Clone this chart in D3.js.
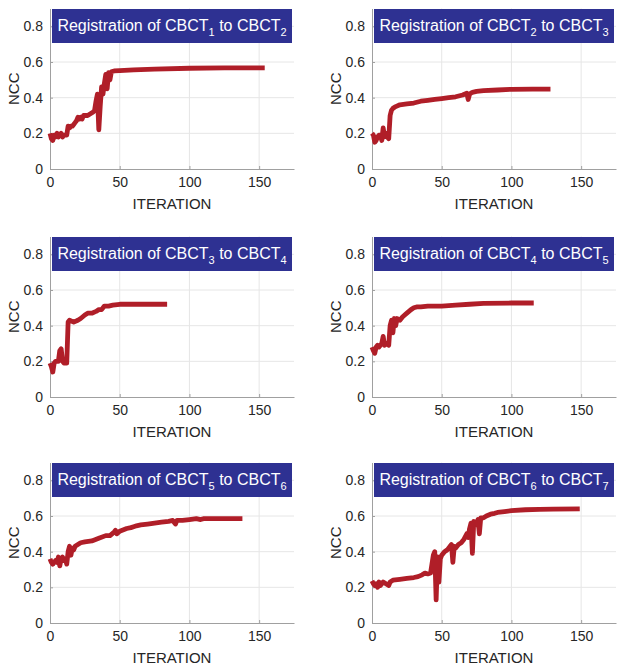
<!DOCTYPE html>
<html><head><meta charset="utf-8">
<script src="https://cdn.jsdelivr.net/npm/d3@7"></script>
<style>
html,body{margin:0;padding:0;background:#fff;}
svg{display:block;font-family:"Liberation Sans",Arial,sans-serif;}
</style></head><body>
<svg id="c" width="624" height="671"></svg>
<script>
// ---- data: [iteration, NCC] ----
const reg1 = [[0,0.20],[1,0.17],[2,0.16],[3,0.19],[4,0.18],[5,0.20],[6,0.18],[7,0.19],[8,0.20],[9,0.18],[10,0.19],[11,0.19],[12,0.19],[13,0.24],[14,0.23],[15,0.24],[16,0.24],[17,0.25],[18,0.26],[19,0.27],[20,0.29],[21,0.28],[22,0.29],[23,0.28],[24,0.30],[25,0.30],[27,0.30],[29,0.31],[31,0.32],[32,0.33],[33,0.38],[34,0.42],[35,0.22],[36,0.35],[37,0.46],[38,0.42],[39,0.48],[40,0.53],[41,0.45],[42,0.54],[43,0.50],[44,0.545],[46,0.55],[50,0.552],[60,0.556],[75,0.56],[100,0.565],[125,0.567],[154,0.567]];
const reg2 = [[0,0.20],[1,0.19],[2,0.15],[3,0.16],[4,0.18],[5,0.19],[6,0.19],[7,0.16],[8,0.23],[9,0.18],[10,0.20],[11,0.18],[12,0.17],[13,0.30],[14,0.33],[15,0.34],[17,0.35],[20,0.36],[25,0.365],[30,0.37],[35,0.38],[40,0.385],[45,0.39],[50,0.395],[55,0.40],[60,0.405],[65,0.415],[68,0.425],[69,0.39],[70,0.42],[72,0.43],[75,0.435],[80,0.44],[90,0.443],[100,0.447],[115,0.448],[128,0.448]];
const reg3 = [[0,0.19],[1,0.17],[2,0.14],[3,0.19],[4,0.20],[6,0.20],[7,0.26],[8,0.27],[9,0.20],[10,0.19],[12,0.19],[13,0.42],[14,0.43],[17,0.42],[20,0.43],[22,0.44],[25,0.46],[27,0.47],[30,0.47],[33,0.48],[35,0.49],[37,0.49],[39,0.51],[42,0.51],[45,0.515],[50,0.52],[60,0.52],[70,0.52],[84,0.52]];
const reg4 = [[0,0.28],[1,0.26],[2,0.245],[3,0.28],[4,0.29],[5,0.28],[6,0.29],[7,0.30],[8,0.34],[9,0.29],[10,0.30],[12,0.29],[13,0.40],[14,0.43],[15,0.36],[16,0.44],[17,0.40],[18,0.44],[20,0.43],[22,0.45],[25,0.47],[28,0.49],[30,0.50],[32,0.505],[35,0.505],[40,0.51],[50,0.51],[60,0.515],[70,0.52],[80,0.525],[100,0.527],[116,0.527]];
const reg5 = [[0,0.36],[1,0.34],[2,0.33],[3,0.34],[4,0.35],[5,0.34],[6,0.37],[7,0.32],[8,0.36],[9,0.37],[10,0.35],[11,0.36],[12,0.33],[13,0.40],[14,0.43],[15,0.38],[16,0.42],[17,0.41],[18,0.43],[20,0.44],[22,0.45],[25,0.455],[30,0.46],[35,0.475],[40,0.49],[43,0.49],[46,0.51],[47,0.52],[48,0.50],[50,0.515],[55,0.53],[58,0.535],[60,0.54],[62,0.545],[65,0.55],[70,0.555],[75,0.56],[80,0.565],[85,0.57],[88,0.575],[90,0.555],[91,0.575],[95,0.575],[100,0.58],[105,0.585],[108,0.58],[110,0.585],[120,0.585],[138,0.585]];
const reg6 = [[0,0.236],[1,0.22],[2,0.21],[3,0.22],[4,0.20],[5,0.23],[6,0.21],[7,0.22],[8,0.23],[10,0.22],[12,0.21],[13,0.23],[15,0.24],[20,0.245],[25,0.25],[30,0.255],[33,0.26],[36,0.27],[38,0.28],[40,0.275],[42,0.28],[43,0.33],[44,0.38],[45,0.40],[46,0.13],[47,0.37],[48,0.23],[49,0.36],[50,0.38],[52,0.40],[54,0.41],[56,0.43],[57,0.44],[58,0.34],[59,0.43],[60,0.42],[62,0.44],[64,0.45],[66,0.47],[68,0.50],[69,0.48],[70,0.53],[71,0.56],[72,0.39],[73,0.57],[74,0.55],[75,0.56],[76,0.58],[77,0.50],[78,0.59],[80,0.59],[82,0.60],[85,0.61],[88,0.615],[90,0.62],[95,0.625],[100,0.63],[110,0.635],[120,0.637],[130,0.638],[149,0.64]];
const series = [reg1, reg2, reg3, reg4, reg5, reg6];
const titleFrom = ["1","2","3","4","5","6"];
const titleTo = ["2","3","4","5","6","7"];
const xTicks = [0, 50, 100, 150];
const yTicks = [0, 0.2, 0.4, 0.6, 0.8];
const xDomain = [0, 175];
const yDomain = [0, 0.9];

// ---- layout ----
const svg = d3.select("#c");
const lefts = [50, 372];
const bottoms = [169, 397, 623];
const W = 244, H = 160.5;
const axisCol = "#a0a0a0", gridCol = "#e6e6e6", textCol = "#262626";

series.forEach((data, i) => {
  const L = lefts[i % 2], B = bottoms[Math.floor(i / 2)], T = B - H;
  const x = d3.scaleLinear().domain(xDomain).range([L, L + W]);
  const y = d3.scaleLinear().domain(yDomain).range([B, T]);
  const g = svg.append("g");

  // grid
  g.selectAll(".gx").data(xTicks.filter(d => d > 0)).join("line")
    .attr("x1", d => x(d)).attr("x2", d => x(d)).attr("y1", T).attr("y2", B)
    .attr("stroke", gridCol).attr("stroke-width", 1);
  g.selectAll(".gy").data(yTicks.filter(d => d > 0)).join("line")
    .attr("x1", L).attr("x2", L + W).attr("y1", d => y(d)).attr("y2", d => y(d))
    .attr("stroke", gridCol).attr("stroke-width", 1);

  // axes
  const xa = g.append("g").attr("transform", `translate(0,${B})`)
    .call(d3.axisBottom(x).tickValues(xTicks).tickSizeInner(-3).tickSizeOuter(0).tickPadding(8).tickFormat(d3.format("d")));
  const ya = g.append("g").attr("transform", `translate(${L},0)`)
    .call(d3.axisLeft(y).tickValues(yTicks).tickSizeInner(-3).tickSizeOuter(0).tickPadding(7).tickFormat(d => d === 0 ? "0" : d3.format(".1f")(d)));
  [xa, ya].forEach(a => {
    a.select(".domain").attr("stroke", axisCol).attr("stroke-width", 1);
    a.selectAll(".tick line").attr("stroke", axisCol);
    a.selectAll(".tick text").attr("fill", textCol).style("font-size", "14px")
      .style("font-family", '"Liberation Sans",Arial,sans-serif');
  });

  // line
  g.append("path").datum(data)
    .attr("d", d3.line().x(d => x(d[0])).y(d => y(d[1])))
    .attr("fill", "none").attr("stroke", "#b01e28").attr("stroke-width", 4.8)
    .attr("stroke-linejoin", "round");

  // title box
  g.append("rect").attr("x", L + 2).attr("y", T + 0.5).attr("width", W - 4).attr("height", 34)
    .attr("fill", "#2e3192");
  const t = g.append("text").attr("x", L + W / 2).attr("y", T + 22)
    .attr("text-anchor", "middle").attr("fill", "#fff").style("font-size", "16px");
  t.append("tspan").text("Registration of CBCT");
  t.append("tspan").attr("dy", 5).style("font-size", "11px").text(titleFrom[i]);
  t.append("tspan").attr("dy", -5).text(" to CBCT");
  t.append("tspan").attr("dy", 5).style("font-size", "11px").text(titleTo[i]);

  // axis labels
  g.append("text").attr("x", L + W / 2).attr("y", B + 39.5).attr("text-anchor", "middle")
    .attr("fill", textCol).style("font-size", "15px").text("ITERATION");
  g.append("text").attr("transform", `translate(${L - 31.5},${(T + B) / 2}) rotate(-90)`)
    .attr("text-anchor", "middle").attr("fill", textCol).style("font-size", "15px").text("NCC");
});
</script></body></html>
